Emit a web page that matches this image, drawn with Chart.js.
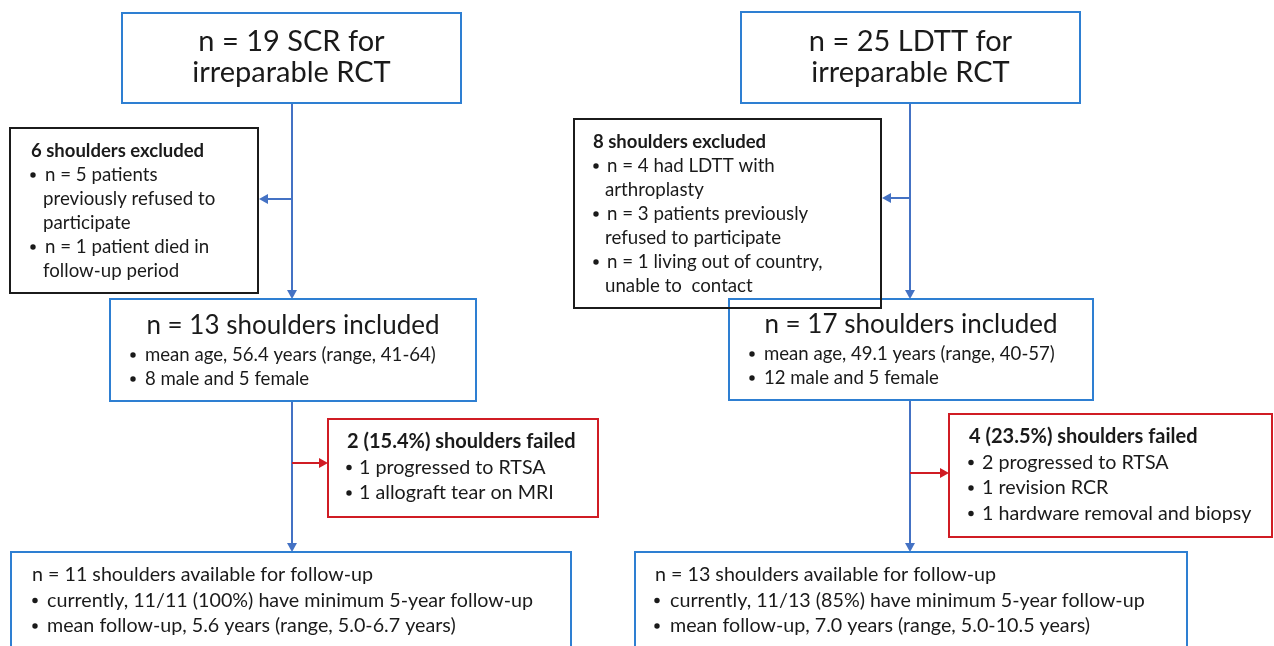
<!DOCTYPE html>
<html>
<head>
<meta charset="utf-8">
<script src="https://cdn.jsdelivr.net/npm/chart.js@4.4.1/dist/chart.umd.min.js"></script>
<style>
  html, body { margin: 0; padding: 0; background: #fff; }
  canvas { display: block; }
</style>
</head>
<body>
<canvas id="chart" width="1274" height="646"></canvas>
<script>
// DATA - SCR arm
let scrTitle = ["n = 19 SCR for", "irreparable RCT"];
let scrExcludedHead = "6 shoulders excluded";
let scrExcluded = [["n = 5 patients", "previously refused to", "participate"], ["n = 1 patient died in", "follow-up period"]];
let scrIncludedHead = "n = 13 shoulders included";
let scrIncluded = ["mean age, 56.4 years (range, 41-64)", "8 male and 5 female"];
let scrFailedHead = "2 (15.4%) shoulders failed";
let scrFailed = ["1 progressed to RTSA", "1 allograft tear on MRI"];
let scrFollowHead = "n = 11 shoulders available for follow-up";
let scrFollow = ["currently, 11/11 (100%) have minimum 5-year follow-up", "mean follow-up, 5.6 years (range, 5.0-6.7 years)"];

// DATA - LDTT arm
let ldttTitle = ["n = 25 LDTT for", "irreparable RCT"];
let ldttExcludedHead = "8 shoulders excluded";
let ldttExcluded = [["n = 4 had LDTT with", "arthroplasty"], ["n = 3 patients previously", "refused to participate"], ["n = 1 living out of country,", "unable to  contact"]];
let ldttIncludedHead = "n = 17 shoulders included";
let ldttIncluded = ["mean age, 49.1 years (range, 40-57)", "12 male and 5 female"];
let ldttFailedHead = "4 (23.5%) shoulders failed";
let ldttFailed = ["2 progressed to RTSA", "1 revision RCR", "1 hardware removal and biopsy"];
let ldttFollowHead = "n = 13 shoulders available for follow-up";
let ldttFollow = ["currently, 11/13 (85%) have minimum 5-year follow-up", "mean follow-up, 7.0 years (range, 5.0-10.5 years)"];

// STYLE
const FONT = "Lato, 'Open Sans', sans-serif";
const BLUE_BOX = "#2e7fd2";
const BLUE_LINE = "#4472c4";
const RED = "#d01c24";
const BLACK = "#1b1b1b";
const INK = "#1a1a1a";
const SIZE = { title: 29, inclHead: 26, exclHead: 18.5, excl: 18.7, incl: 18.6, failHead: 20, fail: 19.7, foll: 19.7 };

// LAYOUT (chart units, same as pixels)
let layoutScr = {
  spine: 292, branchY: 199, failY: 463,
  top:  { x0: 122, y0: 13, x1: 461, y1: 103, ys: [42, 73] },
  excl: { x0: 10, y0: 128, x1: 258, y1: 293, tx: 31, ty: 151, bx: 33, ix: 45, lh: 24 },
  incl: { x0: 110, y0: 299, x1: 476, y1: 401, hy: 326, bx: 133, ix: 145, ty: 355, lh: 24 },
  fail: { x0: 328, y0: 419, x1: 598, y1: 517, tx: 347, ty: 442, bx: 349, ix: 359, lh: 25.5 },
  foll: { x0: 11, y0: 552, x1: 571, y1: 720, tx: 32, ty: 575, bx: 35, ix: 47, lh: 25.5 }
};
let layoutLdtt = {
  spine: 910, branchY: 198, failY: 473,
  top:  { x0: 741, y0: 12, x1: 1080, y1: 103, ys: [42, 73] },
  excl: { x0: 574, y0: 119, x1: 881, y1: 308, tx: 593, ty: 142, bx: 596, ix: 607, lh: 24 },
  incl: { x0: 729, y0: 299, x1: 1093, y1: 400, hy: 325, bx: 752, ix: 764, ty: 354, lh: 24 },
  fail: { x0: 949, y0: 414, x1: 1272, y1: 537, tx: 969, ty: 437, bx: 971, ix: 982, lh: 25.5 },
  foll: { x0: 635, y0: 552, x1: 1187, y1: 720, tx: 655, ty: 575, bx: 657, ix: 670, lh: 25.5 }
};

// DRAW HELPERS
function drawFlow(chart) {
  let ctx = chart.ctx;
  let sx = chart.scales.x, sy = chart.scales.y;
  let X = v => sx.getPixelForValue(v);
  let Y = v => sy.getPixelForValue(v);

  function rect(b, color) {
    ctx.save();
    ctx.strokeStyle = color;
    ctx.lineWidth = 2;
    ctx.strokeRect(X(b.x0), Y(b.y0), X(b.x1) - X(b.x0), Y(b.y1) - Y(b.y0));
    ctx.restore();
  }

  function text(str, x, y, size, bold, align) {
    ctx.save();
    ctx.fillStyle = INK;
    ctx.font = (bold ? "bold " : "") + size + "px " + FONT;
    ctx.textBaseline = "middle";
    ctx.textAlign = align === "center" ? "center" : "left";
    ctx.fillText(str, X(x), Y(y));
    ctx.restore();
  }

  function bullet(x, y) {
    ctx.save();
    ctx.fillStyle = INK;
    ctx.beginPath();
    ctx.arc(X(x), Y(y), 2.7, 0, Math.PI * 2);
    ctx.fill();
    ctx.restore();
  }

  function arrow(x0, y0, x1, y1, color) {
    ctx.save();
    ctx.strokeStyle = color;
    ctx.fillStyle = color;
    ctx.lineWidth = 2;
    let ax = X(x0), ay = Y(y0), bx = X(x1), by = Y(y1);
    let ang = Math.atan2(by - ay, bx - ax);
    let hl = 9, hw = 5;
    ctx.beginPath();
    ctx.moveTo(ax, ay);
    ctx.lineTo(bx - Math.cos(ang) * hl * 0.6, by - Math.sin(ang) * hl * 0.6);
    ctx.stroke();
    ctx.beginPath();
    ctx.moveTo(bx, by);
    ctx.lineTo(bx - Math.cos(ang) * hl - Math.sin(ang) * hw, by - Math.sin(ang) * hl + Math.cos(ang) * hw);
    ctx.lineTo(bx - Math.cos(ang) * hl + Math.sin(ang) * hw, by - Math.sin(ang) * hl - Math.cos(ang) * hw);
    ctx.closePath();
    ctx.fill();
    ctx.restore();
  }

  function line(x0, y0, x1, y1, color) {
    ctx.save();
    ctx.strokeStyle = color;
    ctx.lineWidth = 2;
    ctx.beginPath();
    ctx.moveTo(X(x0), Y(y0));
    ctx.lineTo(X(x1), Y(y1));
    ctx.stroke();
    ctx.restore();
  }

  function column(L, d) {
    // connectors
    line(L.spine, L.top.y1, L.spine, L.incl.y0 - 8, BLUE_LINE);
    arrow(L.spine, L.incl.y0 - 9, L.spine, L.incl.y0, BLUE_LINE);
    arrow(L.spine, L.branchY, L.excl.x1 + 1, L.branchY, BLUE_LINE);
    line(L.spine, L.incl.y1, L.spine, L.foll.y0 - 8, BLUE_LINE);
    arrow(L.spine, L.foll.y0 - 9, L.spine, L.foll.y0, BLUE_LINE);
    arrow(L.spine, L.failY, L.fail.x0, L.failY, RED);

    // boxes
    rect(L.top, BLUE_BOX);
    rect(L.incl, BLUE_BOX);
    rect(L.foll, BLUE_BOX);
    rect(L.fail, RED);
    rect(L.excl, BLACK);

    // top box
    let cx = (L.top.x0 + L.top.x1) / 2;
    d.title.forEach((s, i) => text(s, cx, L.top.ys[i], SIZE.title, false, "center"));

    // excluded
    text(d.exclHead, L.excl.tx, L.excl.ty, SIZE.exclHead, true);
    let y = L.excl.ty;
    d.excl.forEach(item => {
      item.forEach((s, j) => {
        y += L.excl.lh;
        if (j === 0) bullet(L.excl.bx, y);
        text(s, L.excl.ix - (j === 0 ? 0 : 2), y, SIZE.excl, false);
      });
    });

    // included
    let ic = (L.incl.x0 + L.incl.x1) / 2;
    text(d.inclHead, ic, L.incl.hy, SIZE.inclHead, false, "center");
    d.incl.forEach((s, i) => {
      let yy = L.incl.ty + i * L.incl.lh;
      bullet(L.incl.bx, yy);
      text(s, L.incl.ix, yy, SIZE.incl, false);
    });

    // failed
    text(d.failHead, L.fail.tx, L.fail.ty, SIZE.failHead, true);
    d.fail.forEach((s, i) => {
      let yy = L.fail.ty + (i + 1) * L.fail.lh;
      bullet(L.fail.bx, yy);
      text(s, L.fail.ix, yy, SIZE.fail, false);
    });

    // follow-up
    text(d.follHead, L.foll.tx, L.foll.ty, SIZE.foll, false);
    d.foll.forEach((s, i) => {
      let yy = L.foll.ty + (i + 1) * L.foll.lh;
      bullet(L.foll.bx, yy);
      text(s, L.foll.ix, yy, SIZE.foll, false);
    });
  }

  column(layoutScr, {
    title: scrTitle, exclHead: scrExcludedHead, excl: scrExcluded,
    inclHead: scrIncludedHead, incl: scrIncluded,
    failHead: scrFailedHead, fail: scrFailed,
    follHead: scrFollowHead, foll: scrFollow
  });
  column(layoutLdtt, {
    title: ldttTitle, exclHead: ldttExcludedHead, excl: ldttExcluded,
    inclHead: ldttIncludedHead, incl: ldttIncluded,
    failHead: ldttFailedHead, fail: ldttFailed,
    follHead: ldttFollowHead, foll: ldttFollow
  });
}

// CHART
let ctx = document.getElementById("chart").getContext("2d");
let chart = new Chart(ctx, {
  type: "scatter",
  data: { datasets: [{ data: [], pointRadius: 0 }] },
  options: {
    responsive: false,
    animation: false,
    events: [],
    layout: { padding: 0 },
    plugins: { legend: { display: false }, tooltip: { enabled: false } },
    scales: {
      x: { type: "linear", min: 0, max: 1274, display: false },
      y: { type: "linear", min: 0, max: 646, reverse: true, display: false }
    }
  },
  plugins: [{ id: "flow", afterDraw: drawFlow }]
});
</script>
</body>
</html>
